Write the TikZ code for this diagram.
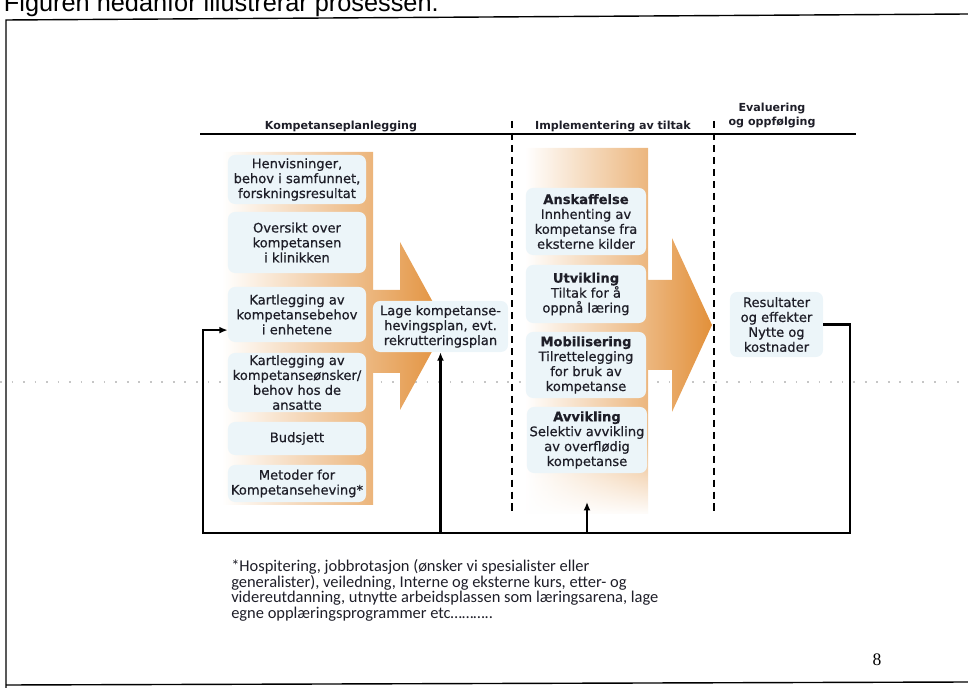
\documentclass[tikz,border=0pt]{standalone}
\usepackage{fontspec}
\setmainfont{DejaVu Sans}
\newfontfamily\boksfont{DejaVu Sans}[FakeBold=0.6]
\newfontfamily\arialfont{Liberation Sans}
\newfontfamily\timesfont{Liberation Serif}
\newfontfamily\notefont{Carlito}
\usetikzlibrary{arrows.meta,positioning,fadings}

\definecolor{boksblaa}{RGB}{236,245,249}
\definecolor{pilorange}{RGB}{226,144,58}
\definecolor{tekst}{RGB}{30,30,40}

\tikzset{
  boks/.style={fill=boksblaa, rounded corners=5pt, align=center, inner sep=1pt,
    text=tekst, font=\boksfont\fontsize{9.3}{10.6}\selectfont},
  overskrift/.style={font=\bfseries\fontsize{7.9}{10}\selectfont, text=tekst, align=center},
  tilbake/.style={line width=1.6pt},
  pil/.style={tilbake, -{Latex[length=6pt,width=5pt]}},
  skille/.style={dash pattern=on 5pt off 3.5pt, line width=1pt}
}

\begin{document}
\begin{tikzpicture}[x=0.025cm, y=-0.025cm]
    \useasboundingbox (0,0) rectangle (968,688);

    % ramme og tittel
    \node[anchor=base west, font=\arialfont\fontsize{18}{22}\selectfont] (tittel) at (-1,12) {Figuren nedanfor illustrerar prosessen.};
    \draw[line width=1pt] (6,688) -- (6,20) -- (968,14);
    \draw[line width=1pt] (6,685) -- (968,682);
    \draw[gray!45, dash pattern=on 1.2pt off 7pt, line width=0.8pt] (0,382) -- (968,382); % brettekant

    % orange piler
    \shade[left color=white, right color=pilorange] (222,152) -- (373,152) -- (373,290) -- (400,290) -- (400,242) -- (446,326) -- (400,410) -- (400,373) -- (373,373) -- (373,505) -- (222,505) -- cycle;
    \shade[left color=white, right color=pilorange] (525,148) -- (648,148) -- (648,280) -- (672,280) -- (672,238) -- (712,325) -- (672,412) -- (672,370) -- (648,370) -- (648,514) -- (525,514) -- cycle;
    \fill[white, path fading=north] (520,440) rectangle (652,516);

    % faser
    \draw[line width=0.9pt] (200,134) -- (856,134);
    \node[overskrift, anchor=base] (plan) at (341,130) {Kompetanseplanlegging};
    \node[overskrift, anchor=base] (impl) at (613,130) {Implementering av tiltak};
    \node[overskrift, anchor=south] (eval) at (772,133) {Evaluering\\og oppfølging};
    \draw[skille] (512,121) -- (512,512);
    \draw[skille] (714,121) -- (714,512);

    % kompetanseplanlegging
    \node[boks, minimum width=3.45cm, minimum height=1.225cm] (henv) at (297,179.5) {Henvisninger,\\behov i samfunnet,\\forskningsresultat};
    \node[boks, minimum width=3.45cm, minimum height=1.525cm] (oversikt) at (297,242.5) {Oversikt over\\kompetansen\\i klinikken};
    \node[boks, minimum width=3.45cm, minimum height=1.375cm] (kart1) at (297,314.5) {Kartlegging av\\kompetansebehov\\i enhetene};
    \node[boks, minimum width=3.45cm, minimum height=1.475cm] (kart2) at (297,382.5) {Kartlegging av\\kompetanseønsker/\\behov hos de\\ansatte};
    \node[boks, minimum width=3.45cm, minimum height=0.825cm] (budsjett) at (297,438.5) {Budsjett};
    \node[boks, minimum width=3.45cm, minimum height=0.925cm] (metoder) at (297,483.5) {Metoder for\\Kompetanseheving*};
    \node[boks, minimum width=3.375cm, minimum height=1.275cm] (lage) at (440.5,326.5) {Lage kompetanse-\\hevingsplan, evt.\\rekrutteringsplan};

    % implementering
    \node[boks, minimum width=3cm, minimum height=1.675cm] (anskaff) at (586,221.5) {\textbf{Anskaffelse}\\Innhenting av\\kompetanse fra\\eksterne kilder};
    \node[boks, minimum width=3cm, minimum height=1.45cm] (utvikling) at (586,294) {\textbf{Utvikling}\\Tiltak for å\\oppnå læring};
    \node[boks, minimum width=3cm, minimum height=1.65cm] (mobil) at (586,365) {\textbf{Mobilisering}\\Tilrettelegging\\for bruk av\\kompetanse};
    \node[boks, minimum width=3cm, minimum height=1.65cm] (avvikling) at (587,440) {\textbf{Avvikling}\\Selektiv avvikling\\av overflødig\\kompetanse};

    % evaluering
    \node[boks, minimum width=2.325cm, minimum height=1.625cm] (resultat) at (776.5,324.5) {Resultater\\og effekter\\Nytte og\\kostnader};

    % tilbakekobling
    \coordinate (hoyre) at (850,533);
    \coordinate (venstre) at (203,533);
    \coordinate (implbunn) at (587,502);
    \draw[pil] (resultat.east) -| (hoyre) -- (venstre) |- ([yshift=-0.39cm]kart1.west);
    \draw[pil] (venstre -| lage) -- (lage.south);
    \draw[pil] (venstre -| implbunn) -- (implbunn);

    % fotnote og sidetall
    \node[anchor=north west, align=left, inner sep=0pt, text=tekst, font=\notefont\fontsize{11.7}{11.2}\selectfont] (fotnote) at (231,559) {*Hospitering, jobbrotasjon (ønsker vi spesialister eller\\generalister), veiledning, Interne og eksterne kurs, etter- og\\videreutdanning, utnytte arbeidsplassen som læringsarena, lage\\egne opplæringsprogrammer etc………..};
    \node[font=\timesfont\fontsize{12.5}{14}\selectfont] (side) at (877,660) {8};
\end{tikzpicture}
\end{document}
